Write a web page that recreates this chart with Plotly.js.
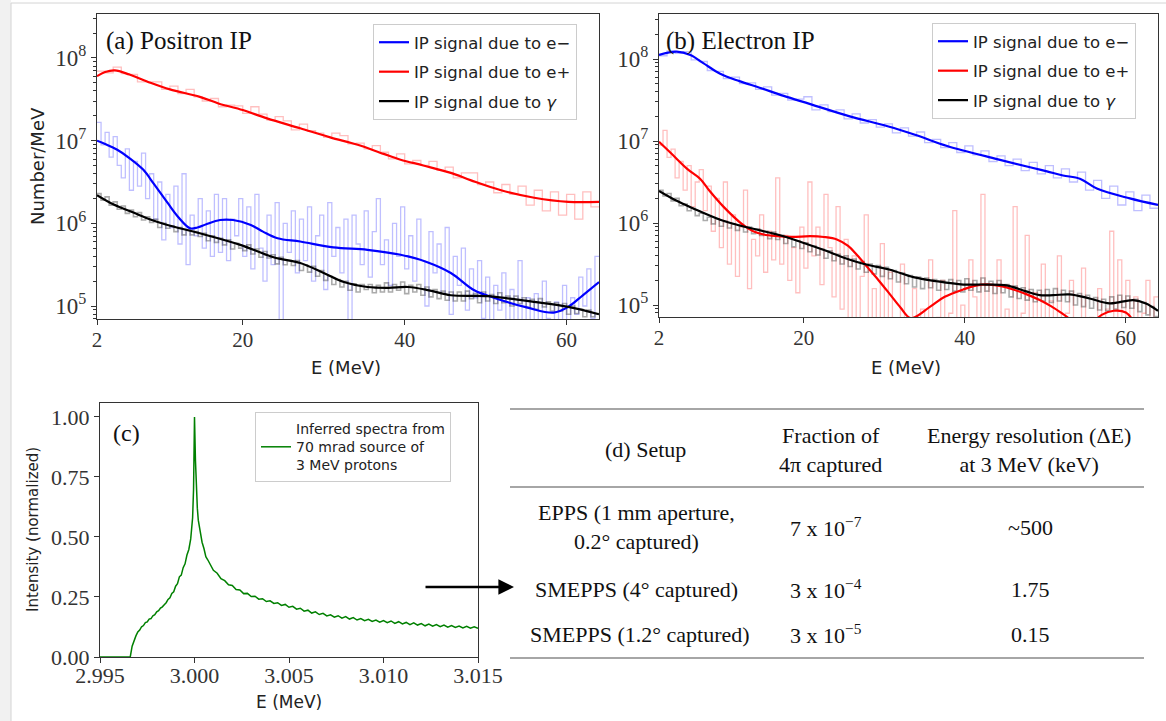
<!DOCTYPE html>
<html><head><meta charset="utf-8">
<script src="https://cdn.plot.ly/plotly-3.0.1.min.js"></script>
<style>html,body{margin:0;padding:0;background:#fff;} #chart{width:1166px;height:721px;}</style>
</head><body><div id="chart"></div>
<script>
// ---------------- DATA (log10 of Number/MeV for panels a, b) ----------------
// Histograms: panel (a)
const redA_binMeV = 1;   // red histogram bins (1 MeV)
const redA_hist_log = [7.84,7.82,7.89,7.81,7.80,7.71,7.71,7.71,7.62,7.66,7.57,7.62,7.53,7.48,7.51,7.41,7.43,7.42,7.33,7.41,7.32,7.25,7.29,7.24,7.13,7.20,7.12,7.09,7.04,7.09,7.06,6.96,6.97,6.90,6.94,6.86,6.78,6.84,6.72,6.76,6.70,6.75,6.64,6.68,6.55,6.61,6.61,6.47,6.50,6.37,6.47,6.35,6.45,6.22,6.40,6.15,6.38,6.10,6.35,6.05,6.38,6.20];
const blueA_binMeV = 0.5;
const blueA_hist_log = [7.22,6.95,7.10,6.80,7.05,6.70, 6.55,6.90,6.40,6.75,6.45,6.85, 6.30,6.60,6.05,6.50,5.80,6.35, 5.95,6.45,5.75,6.60,5.50,6.10,
  5.85,6.30,5.70,6.15,5.60,6.35, 5.65,6.30,5.55,6.05,5.85,6.30, 5.60,6.20,5.45,6.35,5.70,5.30, 6.10,5.50,6.25,4.80,6.00,5.65,
  6.15,5.40,6.05,5.55,6.20,5.30, 5.85,6.10,5.20,6.25,5.60,5.95, 5.40,6.05,4.70,6.10,5.75,5.50, 6.15,5.35,5.90,6.30,5.50,5.80,
  5.25,6.00,5.60,6.20,5.45,5.85, 5.30,6.05,5.55,5.00,5.90,5.40, 5.75,5.15,5.95,4.90,5.60,5.25, 5.70,4.95,5.45,5.10,5.55,4.85,
  5.35,4.70,5.25,4.95,5.40,4.60, 5.20,4.80,5.55,4.70,5.10,4.65, 5.15,4.75,5.30,4.85,4.60,5.05, 4.70,5.25,4.80,5.10,4.90,5.35,
  5.00,5.45,4.85,5.60];
const grayA_binMeV = 0.5;
const grayA_hist_log = [6.36,6.28,6.32,6.22,6.26,6.17, 6.21,6.12,6.16,6.08,6.13,6.04, 6.08,6.01,6.05,5.95,6.00,5.94, 5.97,5.90,5.95,5.86,5.92,5.86,
  5.90,5.84,5.88,5.79,5.85,5.77, 5.82,5.74,5.80,5.69,5.76,5.70, 5.67,5.74,5.63,5.69,5.59,5.66, 5.58,5.62,5.51,5.59,5.50,5.55,
  5.49,5.55,5.43,5.50,5.41,5.48, 5.36,5.43,5.31,5.36,5.26,5.32, 5.23,5.30,5.19,5.27,5.17,5.26, 5.20,5.26,5.16,5.25,5.17,5.28,
  5.17,5.26,5.19,5.29,5.15,5.25, 5.17,5.26,5.13,5.23,5.11,5.20, 5.09,5.18,5.07,5.17,5.06,5.17, 5.06,5.18,5.09,5.15,5.04,5.17,
  5.06,5.14,5.03,5.16,5.04,5.12, 5.00,5.12,5.03,5.10,4.98,5.08, 4.96,5.09,4.99,5.05,4.94,5.04, 4.94,5.03,4.90,5.00,4.91,4.96,
  4.87,4.95,4.87,4.91];
// Smoothed curves: panel (a)
const blueA_E = [2,3,4.5,6,7.7,9,10.7,12,13.5,14.4,15.5,17.2,18.8,21,22.5,24.3,27.1,31.2,35.4,39.5,42.8,45.7,48.6,51,55.2,58.4,60.2,62,64];
const blueA_log = [7.0,6.96,6.89,6.79,6.65,6.48,6.25,6.08,5.94,5.95,5.99,6.04,6.04,5.98,5.90,5.82,5.78,5.71,5.68,5.62,5.53,5.40,5.19,5.10,4.98,4.92,4.99,5.13,5.29];
const redA_E = [2,3,4.2,6,8.6,11,14.7,17,20,23,27.1,30.8,34.2,37.4,39.5,42.3,45.7,48.2,51.9,56,60.2,64];
const redA_log = [7.78,7.83,7.85,7.80,7.70,7.62,7.53,7.45,7.37,7.27,7.15,7.04,6.95,6.84,6.77,6.70,6.61,6.52,6.40,6.31,6.26,6.26];
const blackA_E = [2,4,6.5,8.5,10.7,14.7,19.7,23.8,27.1,30,32.5,35.4,38,40.4,43,45.7,50.3,53,56,60.2,64];
const blackA_log = [6.34,6.23,6.13,6.05,5.98,5.88,5.74,5.59,5.52,5.40,5.29,5.23,5.22,5.23,5.19,5.13,5.12,5.09,5.05,4.99,4.90];

// Histograms: panel (b)
const blueB_binMeV = 1;
const blueB_hist_log = [8.04,8.10,8.07,8.09,7.99,7.97,7.86,7.85,7.76,7.78,7.70,7.71,7.63,7.66,7.56,7.58,7.50,7.51,7.54,7.38,7.44,7.36,7.38,7.27,7.33,7.22,7.26,7.17,7.21,7.10,7.16,7.06,7.11,6.98,7.02,6.92,6.98,6.86,6.94,6.83,6.88,6.75,6.82,6.70,6.78,6.64,6.74,6.60,6.70,6.55,6.66,6.50,6.62,6.40,6.52,6.30,6.45,6.22,6.38,6.15,6.34,6.18];
const redB_binMeV = 0.5;
const redB_hist_log = [6.95,7.13,6.80,6.90,6.55,6.75, 6.40,6.70,6.20,6.50,6.65,6.15, 6.45,5.90,6.30,5.70,6.50,5.50, 6.10,5.35,5.95,6.40,5.20,5.80,
  5.60,6.10,5.40,5.90,5.55,6.55, 5.50,5.85,5.30,5.70,5.15,5.95, 5.45,6.50,5.60,5.95,5.25,6.35, 5.70,5.10,6.20,4.95,5.80,4.50,
  5.60,4.40,5.35,6.10,4.60,5.20, 4.30,5.75,4.20,5.40,4.50,4.10, 5.50,4.20,4.10,5.20,4.30,4.95, 4.20,5.55,4.10,4.85,5.30,4.20,
  4.90,6.15,4.30,5.00,4.20,5.55, 5.10,4.20,6.35,4.60,5.25,4.20, 5.55,4.10,4.95,4.20,6.20,4.30, 4.90,5.85,4.20,5.15,4.10,5.50,
  4.20,5.05,4.10,5.60,4.30,4.90, 5.30,4.20,4.10,5.45,4.30,4.85, 4.20,5.20,4.10,4.95,5.90,4.30, 5.55,4.20,5.30,4.10,5.10,4.20,
  4.90,5.30,4.20,5.10];
const grayB_binMeV = 0.5;
const grayB_hist_log = [6.40,6.33,6.36,6.27,6.30,6.21, 6.23,6.15,6.18,6.09,6.12,6.03, 6.07,5.99,6.05,5.96,6.02,5.94, 5.99,5.91,5.98,5.89,5.95,5.87,
  5.93,5.85,5.90,5.81,5.89,5.80, 5.85,5.75,5.82,5.71,5.78,5.69, 5.76,5.65,5.72,5.61,5.68,5.57, 5.66,5.54,5.62,5.50,5.60,5.47,
  5.56,5.44,5.53,5.40,5.50,5.38, 5.48,5.35,5.46,5.32,5.42,5.28, 5.39,5.26,5.36,5.22,5.34,5.20, 5.33,5.21,5.31,5.18,5.30,5.19,
  5.31,5.17,5.30,5.16,5.32,5.18, 5.30,5.16,5.33,5.17,5.29,5.14, 5.30,5.15,5.25,5.10,5.23,5.08, 5.21,5.06,5.19,5.04,5.18,5.05,
  5.19,5.03,5.20,5.05,5.18,5.04, 5.17,5.00,5.14,4.98,5.12,4.96, 5.09,4.94,5.07,4.93,5.10,4.95, 5.12,4.97,5.11,4.96,5.07,4.92,
  5.03,4.88,4.98,4.86];
// Smoothed curves: panel (b)
const blueB_E = [2,4.2,5.9,7.5,9.6,12,14.5,17.5,20.8,25.7,30.4,34,37.8,44,48.1,50.2,52.2,54.3,56.4,60.5,64];
const blueB_log = [8.05,8.09,8.05,7.95,7.82,7.73,7.65,7.55,7.45,7.30,7.18,7.07,6.94,6.78,6.68,6.63,6.58,6.54,6.42,6.30,6.22];
const redB_E = [2,3.5,5.5,7.1,8.3,10,12.4,13.7,15,16.7,18.5,20.8,22.5,24.1,25.5,26.6,28,29.3,30.7,32,33.3,35.7,37.5,39.8,41.5,43.1,44.5,46,47.7,49.3,50.8,52.2,53.5,55,57,58.5,60,61,62.5,64];
const redB_log = [6.99,6.85,6.66,6.54,6.39,6.20,5.98,5.90,5.86,5.84,5.83,5.84,5.83,5.80,5.72,5.61,5.45,5.30,5.13,4.97,4.84,4.98,5.10,5.19,5.24,5.25,5.23,5.19,5.13,5.06,4.98,4.89,4.80,4.72,4.88,4.93,4.91,4.80,4.60,4.40];
const blackB_E = [2,4,6.2,9.6,12.4,16.7,19.9,22.5,24.9,27.5,30.7,33.6,36.5,39.8,42.5,45.2,47.5,49.3,51,53,55.5,58,60.9,62.5,64];
const blackB_log = [6.39,6.28,6.18,6.04,5.96,5.86,5.76,5.67,5.58,5.50,5.43,5.34,5.29,5.25,5.25,5.24,5.17,5.12,5.12,5.13,5.08,5.02,5.06,5.02,4.93];

// Panel (c): inferred spectrum
const greenE = [2.9950,2.9966,2.9967,2.9968,2.9969,2.9970,2.9971,2.9972,2.9973,2.9974,2.9975,2.9976,2.9977,2.9978,2.9979,2.9980,2.9981,2.9982,2.9983,2.9984,2.9985,2.9986,2.9987,2.9988,2.9989,2.9990,2.9991,2.9992,2.9993,2.9994,2.9995,2.9996,2.9997,2.9998,2.99985,2.9999,2.99995,3.0000,3.00005,3.0001,3.00015,3.0002,3.0003,3.0004,3.0005,3.0006,3.0007,
  3.0008,3.0010,3.0012,3.0014,3.0016,3.0018,3.0020,3.0022,3.0024,3.0026,3.0028,3.0030,3.0032,3.0034,3.0036,3.0038,3.0040,3.0042,3.0044,3.0046,3.0048,3.0050,3.0052,3.0054,3.0056,3.0058,3.0060,3.0062,3.0064,3.0066,3.0068,3.0070,3.0072,3.0074,3.0076,3.0078,3.0080,3.0082,3.0084,3.0086,3.0088,3.0090,3.0092,3.0094,3.0096,3.0098,3.0100,3.0102,3.0104,3.0106,3.0108,3.0110,3.0112,3.0114,3.0116,3.0118,3.0120,3.0122,3.0124,3.0126,3.0128,3.0130,3.0132,3.0134,3.0136,3.0138,3.0140,3.0142,3.0144,3.0146,3.0148,3.0150];
const greenI = [0,0,0.045,0.072,0.088,0.104,0.112,0.126,0.131,0.143,0.146,0.158,0.160,0.172,0.176,0.188,0.193,0.204,0.209,0.218,0.226,0.240,0.247,0.265,0.272,0.295,0.305,0.334,0.341,0.372,0.388,0.425,0.448,0.492,0.53,0.58,0.70,1.0,0.82,0.68,0.62,0.57,0.525,0.478,0.452,0.418,0.405,
  0.392,0.361,0.349,0.326,0.318,0.301,0.298,0.281,0.279,0.264,0.265,0.252,0.253,0.241,0.243,0.231,0.234,0.223,0.226,0.215,0.219,0.207,0.211,0.199,0.203,0.191,0.195,0.183,0.188,0.177,0.182,0.171,0.176,0.166,0.172,0.162,0.168,0.158,0.164,0.154,0.160,0.151,0.157,0.148,0.154,0.145,0.152,0.143,0.150,0.140,0.147,0.138,0.144,0.135,0.142,0.133,0.139,0.130,0.137,0.128,0.135,0.126,0.133,0.124,0.131,0.123,0.129,0.121,0.128,0.120,0.126,0.119];

const xTicksAB = [2, 20, 40, 60];
const yTicksAB = [1e5, 1e6, 1e7, 1e8];
const yTickTextAB = ['10<sup>5</sup>', '10<sup>6</sup>', '10<sup>7</sup>', '10<sup>8</sup>'];
const minorMantissas = [2, 3, 4, 5, 6, 7, 8, 9];
const minorDecades = [1e4, 1e5, 1e6, 1e7, 1e8];
const xTicksC = [2.995, 3.000, 3.005, 3.010, 3.015];
const yTicksC = [0, 0.25, 0.5, 0.75, 1.0];
const legendNames = ["IP signal due to e\u2212", "IP signal due to e+", "IP signal due to <i>\u03b3</i>"];
const legendC = "Inferred spectra from<br>70 mrad source of<br>3 MeV protons";

// Table (d)
const tableHeader = ["(d) Setup", "Fraction of<br>4\u03c0 captured", "Energy resolution (\u0394E)<br>at 3 MeV (keV)"];
const tableSetup = ["EPPS (1 mm aperture,<br>0.2\u00b0 captured)", "SMEPPS (4\u00b0 captured)", "SMEPPS (1.2\u00b0 captured)"];
const tableFraction = ["7 x 10<sup>\u22127</sup>", "3 x 10<sup>\u22124</sup>", "3 x 10<sup>\u22125</sup>"];
const tableResolution = ["~500", "1.75", "0.15"];

// ---------------- helpers ----------------
const W = 1166, H = 721;
const px = x => x / W;
const py = y => 1 - y / H;
const pow10 = a => a.map(v => Math.pow(10, v));
function histX(n, w, start) { const e = []; for (let i = 0; i <= n; i++) e.push(start + i * w); return e; }
function histY(v) { return v.concat([v[v.length - 1]]); }
function hist(vals, w, color, xa, ya, width) {
  return { x: histX(vals.length, w, 2), y: histY(pow10(vals)), xaxis: xa, yaxis: ya, type: 'scatter', mode: 'lines',
    line: { shape: 'hv', color: color, width: width || 1.3 }, showlegend: false, hoverinfo: 'skip' };
}
function smooth(E, L, color, name, xa, ya, leg, grp) {
  return { x: E, y: pow10(L), xaxis: xa, yaxis: ya, type: 'scatter', mode: 'lines', name: name,
    line: { shape: 'spline', smoothing: 1, color: color, width: 2.2 }, legend: leg, legendgroup: grp };
}
const minorVals = [];
minorDecades.forEach(d => minorMantissas.forEach(m => minorVals.push(m * d)));

const BLUEL = 'rgba(0,0,255,0.25)', REDL = 'rgba(255,0,0,0.25)', GRAYL = 'rgba(0,0,0,0.33)';
const traces = [
  hist(redA_hist_log, redA_binMeV, REDL, 'x', 'y'),
  hist(blueA_hist_log, blueA_binMeV, BLUEL, 'x', 'y'),
  hist(grayA_hist_log, grayA_binMeV, GRAYL, 'x', 'y', 1.6),
  smooth(blueA_E, blueA_log, '#0000ff', legendNames[0], 'x', 'y', 'legend', 'a1'),
  smooth(redA_E, redA_log, '#ff0000', legendNames[1], 'x', 'y', 'legend', 'a2'),
  smooth(blackA_E, blackA_log, '#000000', legendNames[2], 'x', 'y', 'legend', 'a3'),

  hist(blueB_hist_log, blueB_binMeV, BLUEL, 'x2', 'y2'),
  hist(redB_hist_log, redB_binMeV, REDL, 'x2', 'y2'),
  hist(grayB_hist_log, grayB_binMeV, GRAYL, 'x2', 'y2', 1.6),
  smooth(blueB_E, blueB_log, '#0000ff', legendNames[0], 'x2', 'y2', 'legend2', 'b1'),
  smooth(redB_E, redB_log, '#ff0000', legendNames[1], 'x2', 'y2', 'legend2', 'b2'),
  smooth(blackB_E, blackB_log, '#000000', legendNames[2], 'x2', 'y2', 'legend2', 'b3'),

  { x: greenE, y: greenI, xaxis: 'x3', yaxis: 'y3', type: 'scatter', mode: 'lines', name: legendC,
    line: { color: '#008000', width: 1.5 }, legend: 'legend3' },

  // invisible carriers for the minor-tick overlay axes
  { x: [2], y: [1e6], xaxis: 'x', yaxis: 'y4', type: 'scatter', mode: 'markers', marker: { opacity: 0 }, showlegend: false, hoverinfo: 'skip' },
  { x: [2], y: [1e6], xaxis: 'x2', yaxis: 'y5', type: 'scatter', mode: 'markers', marker: { opacity: 0 }, showlegend: false, hoverinfo: 'skip' }
];

const AX = '#333';
const tickFontS = { family: 'Liberation Serif, serif', size: 21, color: '#333' };
function xAxisAB(dom, anchor) {
  return { domain: dom, anchor: anchor, range: [2, 64], tickvals: xTicksAB, ticktext: xTicksAB.map(String),
    showline: true, mirror: true, linecolor: AX, linewidth: 1.2, ticks: 'outside', ticklen: 5, tickcolor: AX,
    showgrid: false, zeroline: false, tickfont: tickFontS, ticklabelstandoff: -3 };
}
function yAxisAB(dom, anchor, rng) {
  return { domain: dom, anchor: anchor, type: 'log', range: rng, tickvals: yTicksAB, ticktext: yTickTextAB,
    showline: true, mirror: true, linecolor: AX, linewidth: 1.2, ticks: 'outside', ticklen: 5, tickcolor: AX,
    showgrid: false, zeroline: false, tickfont: { family: 'Liberation Serif, serif', size: 23, color: '#333' } };
}
function yMinor(over, anchor, rng) {
  return { overlaying: over, anchor: anchor, side: 'left', type: 'log', range: rng, tickvals: minorVals,
    ticks: 'outside', ticklen: 3, tickwidth: 1, tickcolor: AX, showticklabels: false, showline: false,
    showgrid: false, zeroline: false };
}

const legBase = { bgcolor: 'rgba(255,255,255,0.85)', bordercolor: '#cccccc', borderwidth: 1,
  font: { family: 'DejaVu Sans, sans-serif', size: 16.5, color: '#222' }, xanchor: 'left', yanchor: 'top',
  tracegroupgap: 5, itemwidth: 30 };

const ann = [];
function A(text, x, y, size, opts) {
  ann.push(Object.assign({ text: text, x: px(x), y: py(y), xref: 'paper', yref: 'paper', showarrow: false,
    font: { family: 'Liberation Serif, serif', size: size, color: '#111' }, xanchor: 'center', yanchor: 'middle' }, opts || {}));
}
// panel labels
A('(a) Positron IP', 104, 41, 25, { xanchor: 'left' });
A('(b) Electron IP', 664, 41, 25, { xanchor: 'left' });
A('(c)', 111, 433, 24, { xanchor: 'left' });
// axis titles
const sans = s => ({ family: 'DejaVu Sans, sans-serif', size: s, color: '#222' });
A('Number/MeV', 37, 166, 18, { textangle: -90, font: sans(18) });
A('E (MeV)', 346, 367, 18, { font: sans(18) });
A('E (MeV)', 906, 367, 18, { font: sans(18) });
A('Intensity (normalized)', 33, 530, 15, { textangle: -90, font: sans(15) });
A('E (MeV)', 289, 702, 17, { font: sans(17) });
// table
const tcol = [645, 830, 1029];
A(tableHeader[0], tcol[0], 450, 22);
A(tableHeader[1], tcol[1], 450, 22);
A(tableHeader[2], tcol[2], 450, 22);
const rowY = [527, 589, 634];
for (let i = 0; i < 3; i++) {
  A(tableSetup[i], i === 2 ? 640 : 636, rowY[i], 22);
  A(tableFraction[i], 826, rowY[i], 22);
  A(tableResolution[i], 1030, rowY[i], 22);
}
// arrow
ann.push({ x: px(514), y: py(587), ax: px(424), ay: py(587), xref: 'paper', yref: 'paper', axref: 'paper', ayref: 'paper',
  showarrow: true, arrowhead: 2, arrowsize: 1.3, arrowwidth: 2.4, arrowcolor: '#000', text: '' });

const shapes = [
  { type: 'rect', xref: 'paper', yref: 'paper', x0: 0, x1: px(11), y0: 0, y1: 1, fillcolor: '#f1f1f1', line: { width: 0 }, layer: 'below' },
  { type: 'line', xref: 'paper', yref: 'paper', x0: px(11), x1: px(11), y0: 0, y1: py(3), line: { color: '#d4d4d4', width: 1 } },
  { type: 'line', xref: 'paper', yref: 'paper', x0: px(11), x1: 1, y0: py(3), y1: py(3), line: { color: '#d4d4d4', width: 1 } },
  { type: 'line', xref: 'paper', yref: 'paper', x0: px(510), x1: px(1144), y0: py(409), y1: py(409), line: { color: '#888', width: 1.3 } },
  { type: 'line', xref: 'paper', yref: 'paper', x0: px(510), x1: px(1144), y0: py(487), y1: py(487), line: { color: '#888', width: 1.3 } },
  { type: 'line', xref: 'paper', yref: 'paper', x0: px(510), x1: px(1144), y0: py(658), y1: py(658), line: { color: '#888', width: 1.3 } }
];

const rngA = [4.843, 8.532], rngB = [4.854, 8.549];
const layout = {
  width: W, height: H, autosize: false, margin: { l: 0, r: 0, t: 0, b: 0 },
  paper_bgcolor: '#fff', plot_bgcolor: '#fff',
  xaxis: xAxisAB([px(97), px(599)], 'y'),
  yaxis: yAxisAB([py(319), py(14)], 'x', rngA),
  xaxis2: xAxisAB([px(659), px(1158)], 'y2'),
  yaxis2: yAxisAB([py(317), py(14)], 'x2', rngB),
  yaxis4: yMinor('y', 'x', rngA),
  yaxis5: yMinor('y2', 'x2', rngB),
  xaxis3: { domain: [px(100), px(478)], anchor: 'y3', range: [2.995, 3.015], tickvals: xTicksC, tickformat: '.3f',
    showline: true, mirror: true, linecolor: AX, linewidth: 1.2, ticks: 'outside', ticklen: 5, tickcolor: AX, ticklabelstandoff: -7,
    showgrid: false, zeroline: false, tickfont: { family: 'Liberation Serif, serif', size: 22, color: '#333' } },
  yaxis3: { domain: [py(657), py(403)], anchor: 'x3', range: [0, 1.058], tickvals: yTicksC, tickformat: '.2f',
    showline: true, mirror: true, linecolor: AX, linewidth: 1.2, ticks: 'outside', ticklen: 5, tickcolor: AX,
    showgrid: false, zeroline: false, tickfont: { family: 'Liberation Serif, serif', size: 22, color: '#333' } },
  legend: Object.assign({}, legBase, { x: px(373), y: py(24) }),
  legend2: Object.assign({}, legBase, { x: px(932), y: py(23) }),
  legend3: Object.assign({}, legBase, { x: px(255), y: py(412), font: { family: 'DejaVu Sans, sans-serif', size: 14, color: '#222' } }),
  annotations: ann, shapes: shapes
};

Plotly.newPlot('chart', traces, layout, { displayModeBar: false, staticPlot: true });
</script></body></html>
